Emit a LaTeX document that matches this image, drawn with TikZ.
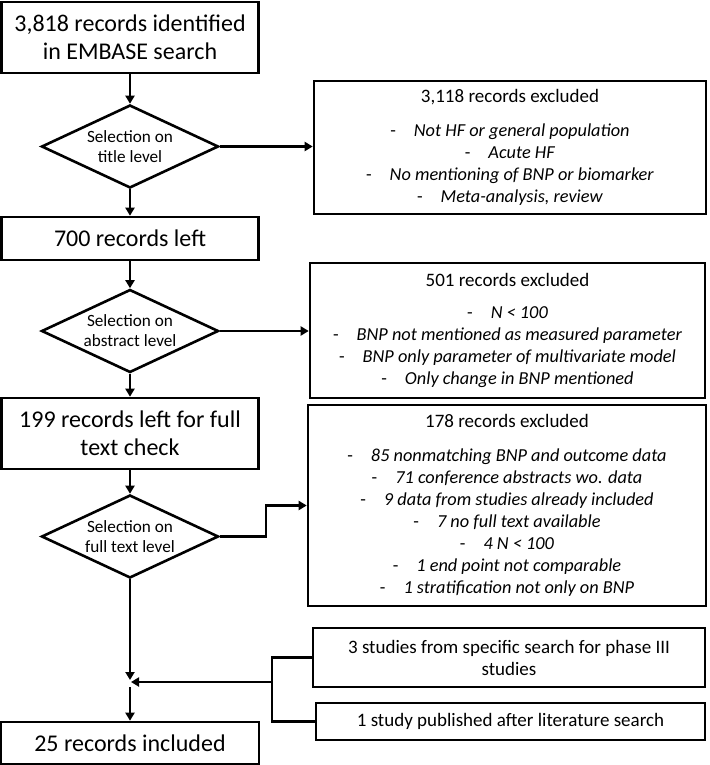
\documentclass[tikz,border=0pt]{standalone}
\usepackage{fontspec}
\setmainfont{Carlito}
\usetikzlibrary{arrows.meta,shapes.geometric}
\newcommand\exitem[1]{{\fontsize{18.3}{22}\selectfont-\hspace{18pt}\textit{#1}}}
\tikzset{
  bigbox/.style={draw, rectangle, line width=2.6pt, inner sep=0pt, align=center,
    font=\fontsize{24}{28}\selectfont},
  exbox/.style={draw, rectangle, line width=2.6pt, inner sep=0pt, align=center,
    font=\fontsize{19}{22}\selectfont},
  decide/.style={draw, diamond, line width=2.6pt, inner sep=0pt, shape aspect=2.13,
    minimum width=177pt, minimum height=83pt, align=center,
    font=\fontsize{17.2}{20}\selectfont},
  conn/.style={line width=2.3pt, -{Triangle[length=8pt,width=9pt]}},
  plainconn/.style={line width=2.3pt}
}
\begin{document}
\begin{tikzpicture}[x=1pt,y=-1pt]
\useasboundingbox (0,0) rectangle (709,765);

\node[bigbox, minimum width=257pt, minimum height=71pt] (b1) at (130,37.5)
  {3,818 records identified\\in EMBASE search};
\node[decide] (d1) at (130,146.5) {Selection on\\title level};
\node[exbox, minimum width=392pt, minimum height=133pt] (r1) at (510,147.5)
  {3,118 records excluded\\[12pt]
   \exitem{Not HF or general population}\\
   \exitem{Acute HF}\\
   \exitem{No mentioning of BNP or biomarker}\\
   \exitem{Meta-analysis, review}};

\node[bigbox, minimum width=257pt, minimum height=43pt] (b2) at (130,238.5)
  {700 records left};
\node[decide] (d2) at (130,331) {Selection on\\abstract level};
\node[exbox, minimum width=395pt, minimum height=135pt] (r2) at (507.5,330.5)
  {501 records excluded\\[10pt]
   \exitem{N < 100}\\
   \exitem{BNP not mentioned as measured parameter}\\
   \exitem{BNP only parameter of multivariate model}\\
   \exitem{Only change in BNP mentioned}};

\node[bigbox, minimum width=257pt, minimum height=71pt] (b3) at (130,433.5)
  {199 records left for full\\text check};
\node[decide] (d3) at (130,536.5) {Selection on\\full text level};
\node[exbox, minimum width=398pt, minimum height=201pt] (r3) at (507,505.5)
  {178 records excluded\\[12pt]
   \exitem{85 nonmatching BNP and outcome data}\\
   \exitem{71 conference abstracts wo. data}\\
   \exitem{9 data from studies already included}\\
   \exitem{7 no full text available}\\
   \exitem{4 N < 100}\\
   \exitem{1 end point not comparable}\\
   \exitem{1 stratification not only on BNP}};

\node[exbox, minimum width=392pt, minimum height=59pt] (bA) at (509,657.5)
  {3 studies from specific search for phase III\\studies};
\node[exbox, minimum width=389pt, minimum height=37pt] (bB) at (510.5,721.5)
  {1 study published after literature search};
\node[bigbox, minimum width=258pt, minimum height=42pt] (b4) at (130,743)
  {25 records included};

\coordinate (J) at (130,680);
\coordinate (Jh) at (131,682);
\coordinate (J2) at (130,687);
\coordinate (K) at (272,682);

\draw[conn] (b1) -- (d1);
\draw[conn] (d1.east) -- (d1.east -| r1.west);
\draw[conn] (d1) -- (b2);
\draw[conn] (b2) -- (d2);
\draw[conn] (d2.east) -- (d2.east -| r2.west);
\draw[conn] (d2) -- (b3);
\draw[conn] (b3) -- (d3);
\draw[conn] (d3.east) -- ++(46,0) |- (r3.west);
\draw[conn] (d3.south) -- (J);
\draw[plainconn] (bA.west) -- (bA.west -| K) -- (bB.west -| K) -- (bB.west);
\draw[conn] (K) -- (Jh);
\draw[conn] (J2) -- (b4.north);
\end{tikzpicture}
\end{document}
